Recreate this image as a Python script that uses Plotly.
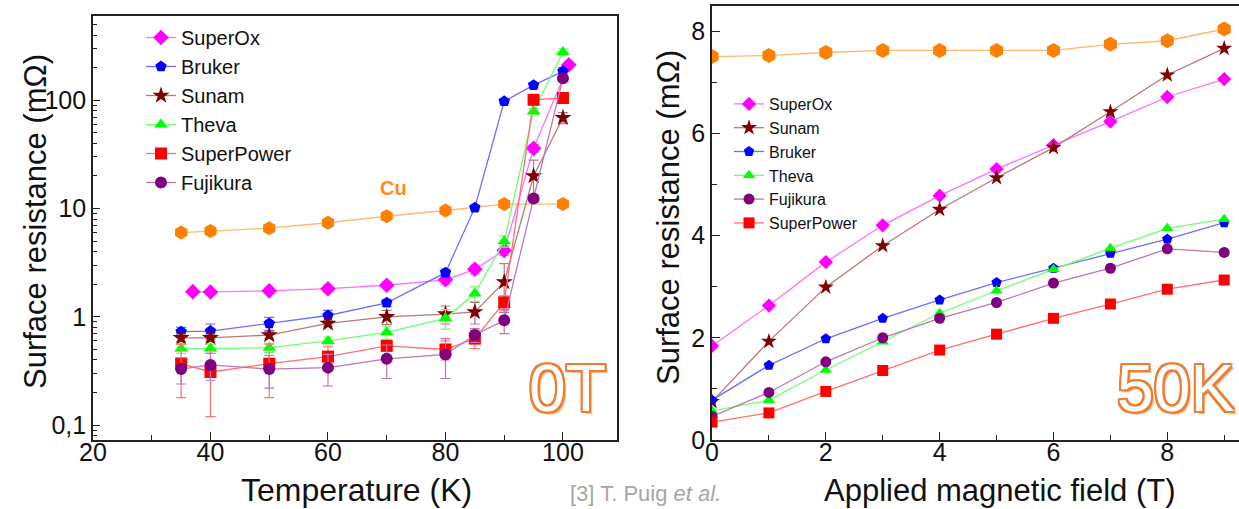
import plotly.graph_objects as go
import math

# ---------------- Data: left panel (0 T, temperature sweep) ----------------
T_std = [35, 40, 50, 60, 70, 80, 85, 90, 95, 100]
T_superox = [37, 40, 50, 60, 70, 80, 85, 90, 95, 101]
T_cu = [35, 40, 50, 60, 70, 80, 90, 100]

rs_superox_T = [1.71, 1.70, 1.74, 1.82, 1.96, 2.2, 2.75, 4.1, 36, 213]
rs_bruker_T = [0.73, 0.74, 0.87, 1.03, 1.35, 2.56, 10.2, 98, 138, 185]
rs_sunam_T = [0.64, 0.64, 0.68, 0.87, 1.0, 1.06, 1.11, 2.1, 20, 69]
rs_theva_T = [0.51, 0.51, 0.52, 0.60, 0.72, 0.97, 1.64, 5.0, 79, 279]
rs_superpower_T = [0.37, 0.31, 0.37, 0.43, 0.54, 0.50, 0.63, 1.36, 101, 105]
rs_fujikura_T = [0.33, 0.36, 0.33, 0.34, 0.41, 0.45, 0.68, 0.93, 12.4, 160]
rs_cu_T = [6.0, 6.2, 6.6, 7.4, 8.5, 9.6, 11.0, 11.0]

err_superox_T = [0, 0, 0.1, 0.15, 0.15, 0.2, 0.25, 0.4, 3, 10]
err_bruker_T = [0.07, 0.12, 0.12, 0.12, 0.1, 0.2, 0.5, 5, 8, 15]
err_sunam_T = [0.05, 0.05, 0.05, 0.05, 0.15, 0.2, 0.25, 1.0, 8, 8]
err_theva_T = [0.05, 0.05, 0.05, 0.05, 0.1, 0.2, 0.25, 0.6, 5, 20]
err_superpower_T = [0.19, 0.19, 0.19, 0.1, 0.05, 0.1, 0.12, 0.2, 5, 8]
err_fujikura_T = [0.09, 0.1, 0.11, 0.11, 0.14, 0.18, 0.1, 0.23, 1, 10]

# ---------------- Data: right panel (50 K, field sweep) ----------------
B = [0, 1, 2, 3, 4, 5, 6, 7, 8, 9]
rs_cu_B = [7.50, 7.52, 7.58, 7.62, 7.62, 7.62, 7.62, 7.74, 7.81, 8.04]
rs_superox_B = [1.84, 2.63, 3.48, 4.20, 4.78, 5.30, 5.77, 6.23, 6.71, 7.06]
rs_sunam_B = [0.75, 1.93, 2.99, 3.80, 4.51, 5.13, 5.72, 6.42, 7.14, 7.66]
rs_bruker_B = [0.78, 1.46, 1.98, 2.38, 2.74, 3.08, 3.36, 3.65, 3.93, 4.25]
rs_theva_B = [0.57, 0.78, 1.37, 1.92, 2.48, 2.92, 3.34, 3.75, 4.14, 4.32]
rs_fujikura_B = [0.46, 0.93, 1.53, 2.00, 2.38, 2.69, 3.07, 3.36, 3.74, 3.67]
rs_superpower_B = [0.35, 0.53, 0.95, 1.36, 1.76, 2.07, 2.38, 2.66, 2.95, 3.13]

left_ticks = [0.1, 1, 10, 100]
left_ticktext = ["0,1", "1", "10", "100"]

FONT = "Liberation Sans, Arial, sans-serif"

# style per series: (marker color, line color, symbol)
style = {
    "SuperOx": ("#ff00ff", "#ff70ff", "diamond"),
    "Bruker": ("#0000ff", "#6f6fff", "pentagon"),
    "Sunam": ("#7f0000", "#b87878", "star"),
    "Theva": ("#00ff00", "#70ff70", "triangle-up"),
    "SuperPower": ("#ff0000", "#ff7070", "square"),
    "Fujikura": ("#800080", "#b878b8", "circle"),
    "Cu": ("#ff8000", "#ffb870", "hexagon"),
}

fig = go.Figure()

left_series = [
    ("SuperOx", T_superox, rs_superox_T, err_superox_T),
    ("Bruker", T_std, rs_bruker_T, err_bruker_T),
    ("Sunam", T_std, rs_sunam_T, err_sunam_T),
    ("Theva", T_std, rs_theva_T, err_theva_T),
    ("SuperPower", T_std, rs_superpower_T, err_superpower_T),
    ("Fujikura", T_std, rs_fujikura_T, err_fujikura_T),
]

fig.add_trace(go.Scatter(
    x=T_cu, y=rs_cu_T, mode="lines+markers", name="Cu", showlegend=False,
    line=dict(color=style["Cu"][1], width=1.3),
    marker=dict(color=style["Cu"][0], symbol="hexagon", size=14),
    xaxis="x", yaxis="y"))

for name, xs, ys, es in left_series:
    mc, lc, sym = style[name]
    fig.add_trace(go.Scatter(
        x=xs, y=ys, mode="lines+markers", name=name, legend="legend",
        line=dict(color=lc, width=1.3),
        marker=dict(color=mc, symbol=sym, size=12 if sym != "star" else 13),
        error_y=dict(type="data", array=es, visible=True, color=lc, thickness=1.2, width=5),
        xaxis="x", yaxis="y"))

right_series = [
    ("SuperOx", rs_superox_B),
    ("Sunam", rs_sunam_B),
    ("Bruker", rs_bruker_B),
    ("Theva", rs_theva_B),
    ("Fujikura", rs_fujikura_B),
    ("SuperPower", rs_superpower_B),
]

fig.add_trace(go.Scatter(
    x=B, y=rs_cu_B, mode="lines+markers", name="Cu", showlegend=False,
    line=dict(color=style["Cu"][1], width=1.3),
    marker=dict(color=style["Cu"][0], symbol="hexagon", size=15),
    xaxis="x2", yaxis="y2"))

for name, ys in right_series:
    mc, lc, sym = style[name]
    fig.add_trace(go.Scatter(
        x=B, y=ys, mode="lines+markers", name=name, legend="legend2",
        line=dict(color=lc, width=1.3),
        marker=dict(color=mc, symbol=sym, size=11 if sym != "star" else 12),
        xaxis="x2", yaxis="y2"))

W, H = 1239, 509
def px(x): return x / W
def py(y): return (H - y) / H

axis_common = dict(showline=True, linecolor="#222", linewidth=1.6, showgrid=False,
                   zeroline=False, ticks="inside", tickcolor="#222", tickwidth=1.3,
                   automargin=False,
                   tickfont=dict(family=FONT, size=25, color="#111"))

minor_log = [m * 10 ** e for e in range(-2, 3) for m in range(2, 10)]

fig.update_layout(
    width=W, height=H, margin=dict(l=0, r=0, t=0, b=0, autoexpand=False),
    paper_bgcolor="white", plot_bgcolor="white",
    font=dict(family=FONT, color="#111"),
    xaxis=dict(domain=[px(93), px(617)], range=[20, 109.2], tick0=20, dtick=20,
               ticklen=8, mirror=True, anchor="y", ticklabelstandoff=-11,
               minor=dict(dtick=10, ticks="inside", ticklen=5, tickcolor="#222"),
               **axis_common),
    yaxis=dict(domain=[py(440), py(16)], type="log",
               range=[math.log10(0.073), math.log10(600)],
               tickmode="array", tickvals=left_ticks, ticktext=left_ticktext,
               ticklen=7, mirror=True, anchor="x",
               minor=dict(tickmode="array", tickvals=minor_log, ticks="inside",
                          ticklen=4, tickcolor="#222"),
               **axis_common),
    xaxis2=dict(domain=[px(712), 1.0], range=[0, 9.26], tick0=0, dtick=2,
                ticklen=8, mirror=True, anchor="y2", ticklabelstandoff=-11,
                minor=dict(dtick=1, ticks="inside", ticklen=5, tickcolor="#222"),
                **axis_common),
    yaxis2=dict(domain=[py(440), py(6)], range=[0, 8.49], tick0=0, dtick=2,
                ticklen=8, anchor="x2",
                minor=dict(dtick=1, ticks="inside", ticklen=5, tickcolor="#222"),
                **axis_common),
    legend=dict(x=px(141), y=py(18), xanchor="left", yanchor="top",
                bgcolor="rgba(0,0,0,0)", font=dict(family=FONT, size=20, color="#111"),
                tracegroupgap=0, itemwidth=30),
    legend2=dict(x=px(729), y=py(87), xanchor="left", yanchor="top",
                 bgcolor="rgba(0,0,0,0)", font=dict(family=FONT, size=16, color="#111"),
                 tracegroupgap=0, itemwidth=30),
)

outline = "#ED7D31"
d = "2px"
shadow = (f"-{d} -{d} 0 {outline}, {d} -{d} 0 {outline}, -{d} {d} 0 {outline}, "
          f"{d} {d} 0 {outline}, 0 {d} 0 {outline}, 0 -{d} 0 {outline}, "
          f"{d} 0 0 {outline}, -{d} 0 0 {outline}, 3px 3px 1px rgba(237,125,49,0.6)")

annotations = [
    dict(text="Surface resistance (mΩ)", x=px(35), y=py(222), textangle=-90,
         font=dict(family=FONT, size=31, color="#111")),
    dict(text="Surface resistance (mΩ)", x=px(668), y=py(218), textangle=-90,
         font=dict(family=FONT, size=31, color="#111")),
    dict(text="Temperature (K)", x=px(356), y=py(490),
         font=dict(family=FONT, size=32, color="#111")),
    dict(text="Applied magnetic field (T)", x=px(1000), y=py(490),
         font=dict(family=FONT, size=31, color="#111")),
    dict(text="[3] T. Puig <i>et al.</i>", x=px(645), y=py(493),
         font=dict(family=FONT, size=22, color="#a6a6a6")),
    dict(text="<b>Cu</b>", x=px(393), y=py(188),
         font=dict(family=FONT, size=20, color="#ff8c1a")),
    dict(text="0T", x=px(567), y=py(388),
         font=dict(family=FONT, size=66, color="white", shadow=shadow)),
    dict(text="50K", x=px(1175), y=py(388),
         font=dict(family=FONT, size=66, color="white", shadow=shadow)),
]
for a in annotations:
    a.update(xref="paper", yref="paper", showarrow=False, xanchor="center", yanchor="middle")
fig.update_layout(annotations=annotations)

fig.write_html("out.html")
